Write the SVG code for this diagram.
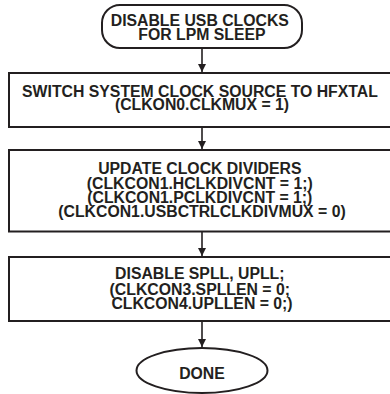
<svg xmlns="http://www.w3.org/2000/svg" width="390" height="394" viewBox="0 0 390 394">
  <defs>
    <marker id="arrow" viewBox="0 0 8 16" refX="8" refY="8" markerWidth="8" markerHeight="16" markerUnits="userSpaceOnUse" orient="auto">
      <path d="M0,4 L8,8 L0,12 Z" fill="#231f20"/>
    </marker>
    <style>
      .shape { fill: #ffffff; stroke: #231f20; stroke-width: 2; }
      .label { font-family: "Liberation Sans", Arial, sans-serif; font-weight: bold; font-size: 15.8px; fill: #231f20; text-anchor: middle; }
      .link { stroke: #231f20; stroke-width: 1.6; fill: none; marker-end: url(#arrow); }
    </style>
  </defs>
  <rect width="390" height="394" fill="#ffffff"/>

  <g id="connectors">
    <path class="link" d="M202,48 V72"/>
    <path class="link" d="M202,127 V149"/>
    <path class="link" d="M202,232 V256"/>
    <path class="link" d="M202,321 V347"/>
  </g>

  <g id="start">
    <rect class="shape" x="102" y="5" width="200" height="43" rx="18" ry="18"/>
    <text class="label">
      <tspan x="202" y="26">DISABLE USB CLOCKS</tspan>
      <tspan x="202" y="39.5">FOR LPM SLEEP</tspan>
    </text>
  </g>

  <g id="switch-clock">
    <rect class="shape" x="9" y="73" width="386" height="54"/>
    <text class="label">
      <tspan x="202" y="96.7">SWITCH SYSTEM CLOCK SOURCE TO HFXTAL</tspan>
      <tspan x="202" y="109.7">(CLKON0.CLKMUX = 1)</tspan>
    </text>
  </g>

  <g id="update-dividers">
    <rect class="shape" x="9" y="150" width="386" height="81.5"/>
    <text class="label">
      <tspan x="202" y="174">UPDATE CLOCK DIVIDERS</tspan>
      <tspan x="202" y="188.6">(CLKCON1.HCLKDIVCNT = 1;)</tspan>
      <tspan x="202" y="203">(CLKCON1.PCLKDIVCNT = 1;)</tspan>
      <tspan x="202" y="217.4">(CLKCON1.USBCTRLCLKDIVMUX = 0)</tspan>
    </text>
  </g>

  <g id="disable-pll">
    <rect class="shape" x="9" y="257" width="386" height="64"/>
    <text class="label">
      <tspan x="202" y="279">DISABLE SPLL, UPLL;</tspan>
      <tspan x="202" y="294.5">(CLKCON3.SPLLEN = 0;</tspan>
      <tspan x="202" y="308.5">CLKCON4.UPLLEN = 0;)</tspan>
    </text>
  </g>

  <g id="done">
    <ellipse class="shape" cx="202" cy="370.5" rx="65.5" ry="22.5"/>
    <text class="label" x="202" y="379">DONE</text>
  </g>
</svg>
